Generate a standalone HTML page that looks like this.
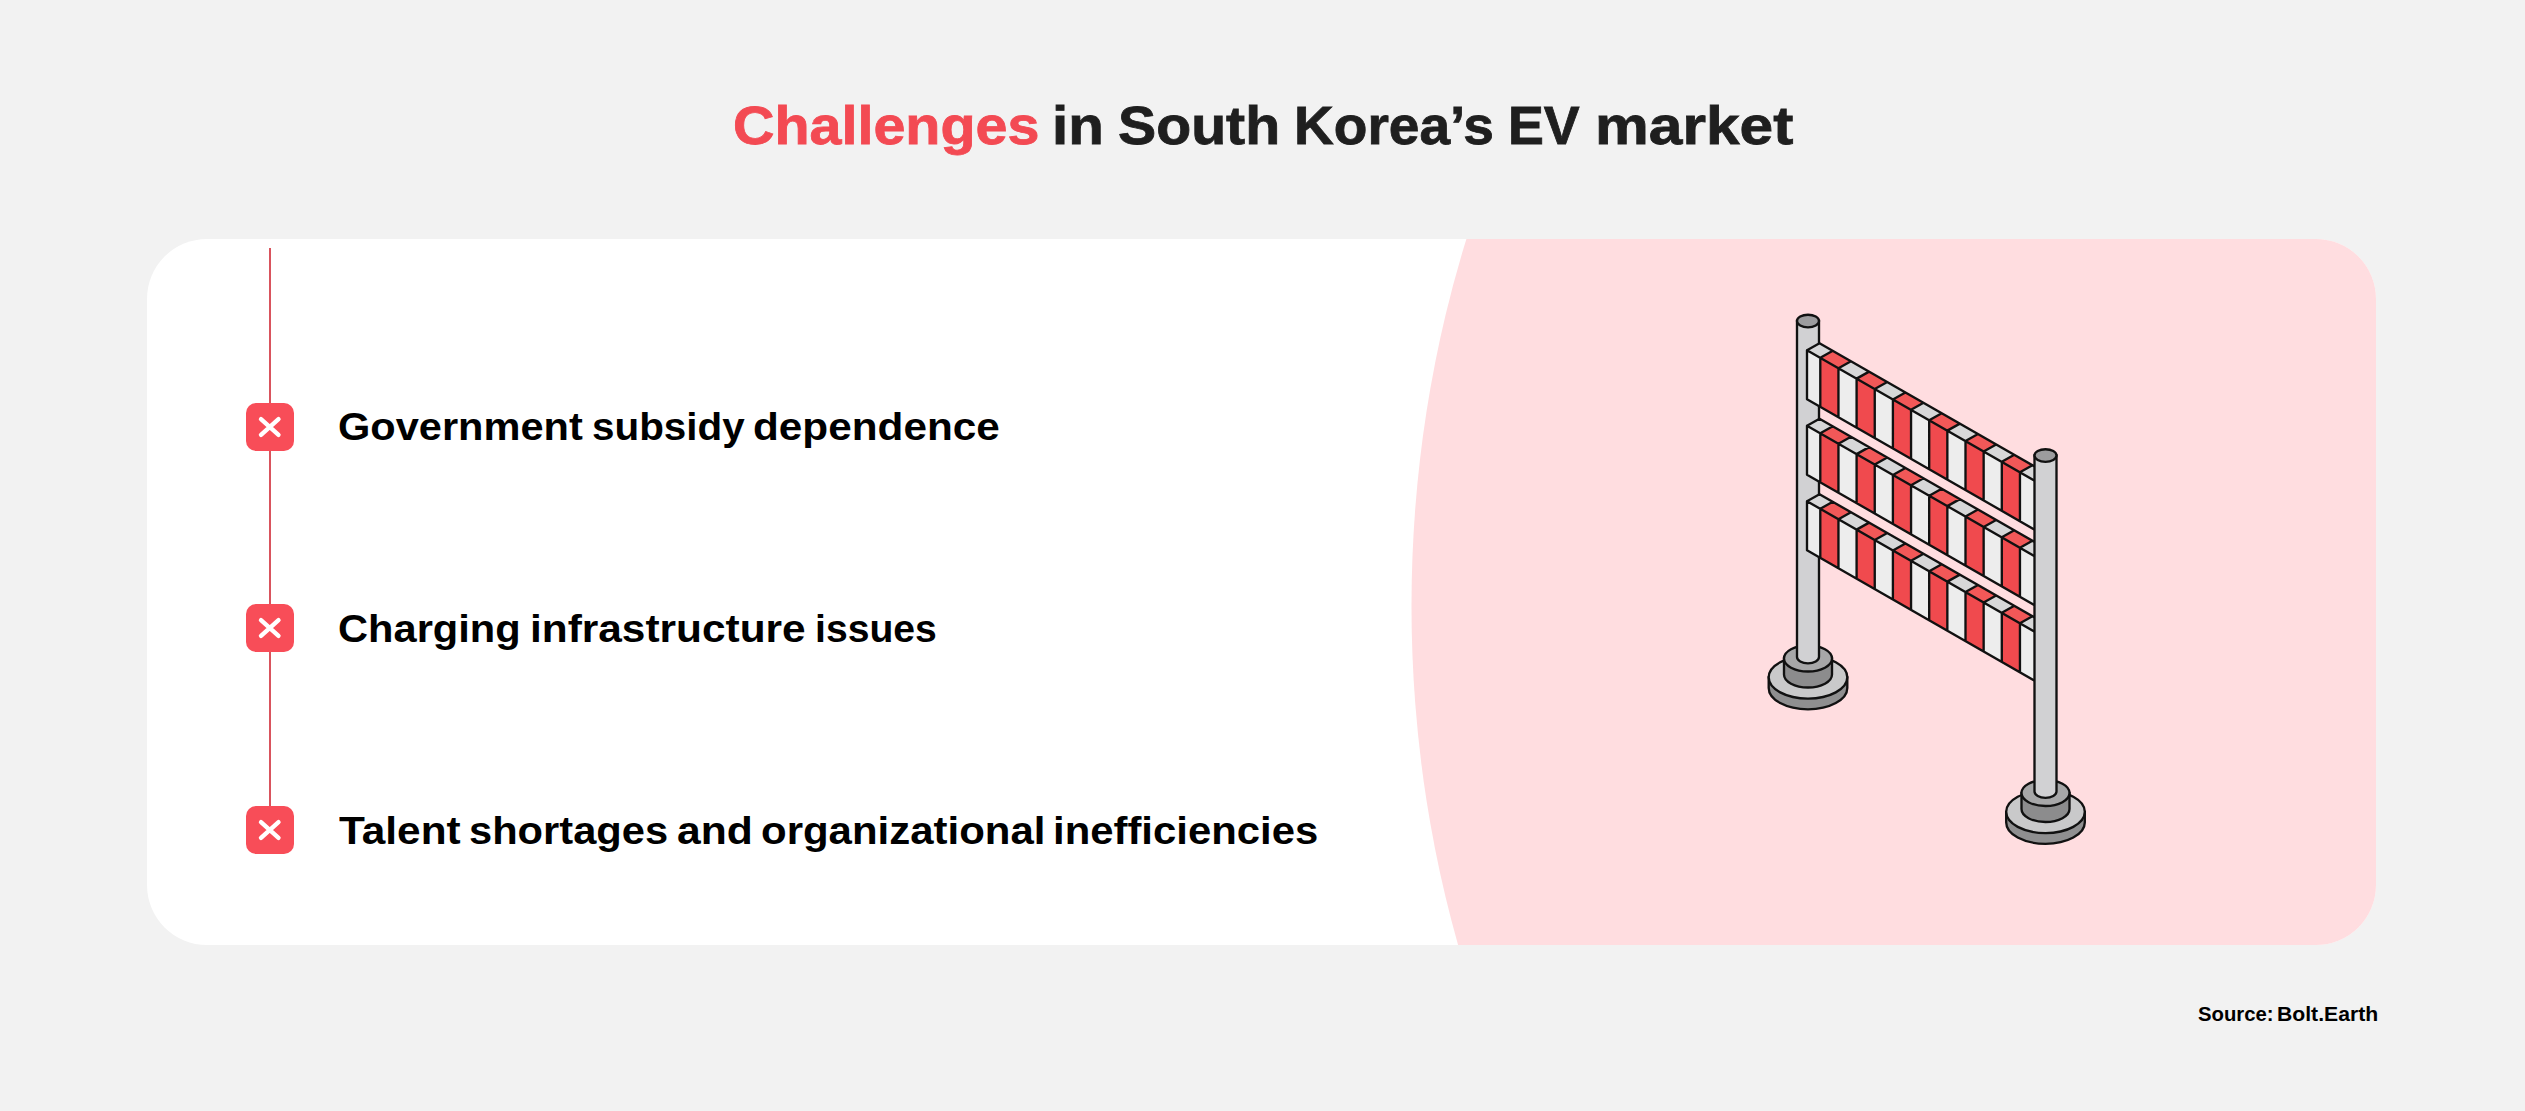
<!DOCTYPE html>
<html><head><meta charset="utf-8"><style>
html,body{margin:0;padding:0}
body{width:2525px;height:1111px;background:#f2f2f2;position:relative;overflow:hidden;font-family:"Liberation Sans",sans-serif;font-weight:bold}
.t{position:absolute;white-space:nowrap;line-height:1}
.w{position:absolute;white-space:nowrap;line-height:1;transform-origin:0 0}
#card{position:absolute;left:147px;top:239px;width:2229px;height:706px;background:#fff;border-radius:60px;overflow:hidden}
.box{position:absolute;left:246px;width:48px;height:48px;border-radius:10px;background:#f84d58}
</style></head><body>
<div id="title">
<span class="w" style="left:732.87px;top:98.7px;font-size:53px;color:#f34a53;transform:scaleX(1.0837);-webkit-text-stroke:0.8px currentColor">Challenges</span>
<span class="w" style="left:1051.61px;top:98.7px;font-size:53px;color:#1f1f1f;transform:scaleX(1.0996);-webkit-text-stroke:0.8px currentColor">in</span>
<span class="w" style="left:1118.34px;top:98.7px;font-size:53px;color:#1f1f1f;transform:scaleX(1.0801);-webkit-text-stroke:0.8px currentColor">South</span>
<span class="w" style="left:1294.44px;top:98.7px;font-size:53px;color:#1f1f1f;transform:scaleX(1.0387);-webkit-text-stroke:0.8px currentColor">Korea’s</span>
<span class="w" style="left:1508.41px;top:98.7px;font-size:53px;color:#1f1f1f;transform:scaleX(1.0144);-webkit-text-stroke:0.8px currentColor">EV</span>
<span class="w" style="left:1594.74px;top:98.7px;font-size:53px;color:#1f1f1f;transform:scaleX(1.1408);-webkit-text-stroke:0.8px currentColor">market</span>
</div>
<div id="card">
<svg width="2229" height="706" style="position:absolute;left:0;top:0"><ellipse cx="2053" cy="367" rx="788.5" ry="1001" fill="#ffdde0"/></svg>
</div>
<div style="position:absolute;left:269px;top:248px;width:2px;height:558px;background:#d9545d"></div>
<div class="box" style="top:403px"><svg width="48" height="48"><path d="M15,16.2 L32.5,31.8 M32.5,16.2 L15,31.8" stroke="#fff" stroke-width="4.4" stroke-linecap="round"/></svg></div>
<div class="box" style="top:604px"><svg width="48" height="48"><path d="M15,16.2 L32.5,31.8 M32.5,16.2 L15,31.8" stroke="#fff" stroke-width="4.4" stroke-linecap="round"/></svg></div>
<div class="box" style="top:806px"><svg width="48" height="48"><path d="M15,16.2 L32.5,31.8 M32.5,16.2 L15,31.8" stroke="#fff" stroke-width="4.4" stroke-linecap="round"/></svg></div>
<div class="item">
<span class="w" style="left:337.67px;top:408px;font-size:38.5px;color:#000;transform:scaleX(1.0793);">Government</span>
<span class="w" style="left:592.03px;top:408px;font-size:38.5px;color:#000;transform:scaleX(1.0495);">subsidy</span>
<span class="w" style="left:752.84px;top:408px;font-size:38.5px;color:#000;transform:scaleX(1.0989);">dependence</span>
</div>
<div class="item">
<span class="w" style="left:337.67px;top:610px;font-size:38.5px;color:#000;transform:scaleX(1.0815);">Charging</span>
<span class="w" style="left:530.00px;top:610px;font-size:38.5px;color:#000;transform:scaleX(1.1012);">infrastructure</span>
<span class="w" style="left:814.64px;top:610px;font-size:38.5px;color:#000;transform:scaleX(1.0169);">issues</span>
</div>
<div class="item">
<span class="w" style="left:339.00px;top:812px;font-size:38.5px;color:#000;transform:scaleX(1.1007);">Talent</span>
<span class="w" style="left:469.37px;top:812px;font-size:38.5px;color:#000;transform:scaleX(1.0822);">shortages</span>
<span class="w" style="left:677.26px;top:812px;font-size:38.5px;color:#000;transform:scaleX(1.1072);">and</span>
<span class="w" style="left:760.85px;top:812px;font-size:38.5px;color:#000;transform:scaleX(1.0900);">organizational</span>
<span class="w" style="left:1053.44px;top:812px;font-size:38.5px;color:#000;transform:scaleX(1.0872);">inefficiencies</span>
</div>
<div id="src">
<span class="w" style="left:2197.68px;top:1004.5px;font-size:19.5px;color:#000;transform:scaleX(1.0415);">Source:</span>
<span class="w" style="left:2276.84px;top:1004.5px;font-size:19.5px;color:#000;transform:scaleX(1.0858);">Bolt.Earth</span>
</div>
<svg width="2525" height="1111" style="position:absolute;left:0;top:0">
<path d="M1768.70,677.30 L1768.70,688.00 A39.30,21.30 0 0 0 1847.30,688.00 L1847.30,677.30 Z" fill="#8f8f90" stroke="#111" stroke-width="2.35"/><ellipse cx="1808.00" cy="677.30" rx="39.30" ry="21.30" fill="#c9c9ca" stroke="#111" stroke-width="2.35"/><path d="M1784.00,658.50 L1784.00,674.50 A24.00,13.00 0 0 0 1832.00,674.50 L1832.00,658.50 Z" fill="#8c8c8d" stroke="#111" stroke-width="2.35"/><ellipse cx="1808.00" cy="658.50" rx="24.00" ry="13.00" fill="#a7a7a8" stroke="#111" stroke-width="2.35"/>
<path d="M1797.00,321.00 L1797.00,657.00 A11.00,6.30 0 0 0 1819.00,657.00 L1819.00,321.00 Z" fill="#d1d1d3" stroke="#111" stroke-width="2.35"/>
<ellipse cx="1808.00" cy="321.00" rx="11.00" ry="6.30" fill="#9c9c9e" stroke="#111" stroke-width="2.35"/>
<polygon points="1807.00,350.20 1819.50,343.20 2052.50,476.71 2040.00,483.71" fill="#d7d7d8"/>
<polygon points="1807.00,350.20 2040.00,483.71 2040.00,532.71 1807.00,399.20" fill="#ededed"/>
<polygon points="1820.30,357.82 1838.45,368.22 1838.45,417.22 1820.30,406.82" fill="#f04a4e"/>
<polygon points="1820.30,357.82 1832.80,350.82 1850.95,361.22 1838.45,368.22" fill="#f25858"/>
<polygon points="1856.60,378.62 1874.75,389.02 1874.75,438.02 1856.60,427.62" fill="#f04a4e"/>
<polygon points="1856.60,378.62 1869.10,371.62 1887.25,382.02 1874.75,389.02" fill="#f25858"/>
<polygon points="1892.90,399.42 1911.05,409.82 1911.05,458.82 1892.90,448.42" fill="#f04a4e"/>
<polygon points="1892.90,399.42 1905.40,392.42 1923.55,402.82 1911.05,409.82" fill="#f25858"/>
<polygon points="1929.20,420.22 1947.35,430.62 1947.35,479.62 1929.20,469.22" fill="#f04a4e"/>
<polygon points="1929.20,420.22 1941.70,413.22 1959.85,423.62 1947.35,430.62" fill="#f25858"/>
<polygon points="1965.50,441.02 1983.65,451.42 1983.65,500.42 1965.50,490.02" fill="#f04a4e"/>
<polygon points="1965.50,441.02 1978.00,434.02 1996.15,444.42 1983.65,451.42" fill="#f25858"/>
<polygon points="2001.80,461.82 2019.95,472.22 2019.95,521.22 2001.80,510.82" fill="#f04a4e"/>
<polygon points="2001.80,461.82 2014.30,454.82 2032.45,465.22 2019.95,472.22" fill="#f25858"/>
<path d="M1807.00,350.20 L2040.00,483.71 L2040.00,532.71 L1807.00,399.20 Z M1807.00,350.20 L1819.50,343.20 L2052.50,476.71 L2040.00,483.71 M1832.80,350.82 L1820.30,357.82 L1820.30,406.82 M1850.95,361.22 L1838.45,368.22 L1838.45,417.22 M1869.10,371.62 L1856.60,378.62 L1856.60,427.62 M1887.25,382.02 L1874.75,389.02 L1874.75,438.02 M1905.40,392.42 L1892.90,399.42 L1892.90,448.42 M1923.55,402.82 L1911.05,409.82 L1911.05,458.82 M1941.70,413.22 L1929.20,420.22 L1929.20,469.22 M1959.85,423.62 L1947.35,430.62 L1947.35,479.62 M1978.00,434.02 L1965.50,441.02 L1965.50,490.02 M1996.15,444.42 L1983.65,451.42 L1983.65,500.42 M2014.30,454.82 L2001.80,461.82 L2001.80,510.82 M2032.45,465.22 L2019.95,472.22 L2019.95,521.22 M2050.60,475.62 L2038.10,482.62 L2038.10,531.62" fill="none" stroke="#111" stroke-width="2.35" stroke-linejoin="round"/>
<polygon points="1807.00,425.70 1819.50,418.70 2052.50,552.21 2040.00,559.21" fill="#d7d7d8"/>
<polygon points="1807.00,425.70 2040.00,559.21 2040.00,608.21 1807.00,474.70" fill="#ededed"/>
<polygon points="1820.30,433.32 1838.45,443.72 1838.45,492.72 1820.30,482.32" fill="#f04a4e"/>
<polygon points="1820.30,433.32 1832.80,426.32 1850.95,436.72 1838.45,443.72" fill="#f25858"/>
<polygon points="1856.60,454.12 1874.75,464.52 1874.75,513.52 1856.60,503.12" fill="#f04a4e"/>
<polygon points="1856.60,454.12 1869.10,447.12 1887.25,457.52 1874.75,464.52" fill="#f25858"/>
<polygon points="1892.90,474.92 1911.05,485.32 1911.05,534.32 1892.90,523.92" fill="#f04a4e"/>
<polygon points="1892.90,474.92 1905.40,467.92 1923.55,478.32 1911.05,485.32" fill="#f25858"/>
<polygon points="1929.20,495.72 1947.35,506.12 1947.35,555.12 1929.20,544.72" fill="#f04a4e"/>
<polygon points="1929.20,495.72 1941.70,488.72 1959.85,499.12 1947.35,506.12" fill="#f25858"/>
<polygon points="1965.50,516.52 1983.65,526.92 1983.65,575.92 1965.50,565.52" fill="#f04a4e"/>
<polygon points="1965.50,516.52 1978.00,509.52 1996.15,519.92 1983.65,526.92" fill="#f25858"/>
<polygon points="2001.80,537.32 2019.95,547.72 2019.95,596.72 2001.80,586.32" fill="#f04a4e"/>
<polygon points="2001.80,537.32 2014.30,530.32 2032.45,540.72 2019.95,547.72" fill="#f25858"/>
<path d="M1807.00,425.70 L2040.00,559.21 L2040.00,608.21 L1807.00,474.70 Z M1807.00,425.70 L1819.50,418.70 L2052.50,552.21 L2040.00,559.21 M1832.80,426.32 L1820.30,433.32 L1820.30,482.32 M1850.95,436.72 L1838.45,443.72 L1838.45,492.72 M1869.10,447.12 L1856.60,454.12 L1856.60,503.12 M1887.25,457.52 L1874.75,464.52 L1874.75,513.52 M1905.40,467.92 L1892.90,474.92 L1892.90,523.92 M1923.55,478.32 L1911.05,485.32 L1911.05,534.32 M1941.70,488.72 L1929.20,495.72 L1929.20,544.72 M1959.85,499.12 L1947.35,506.12 L1947.35,555.12 M1978.00,509.52 L1965.50,516.52 L1965.50,565.52 M1996.15,519.92 L1983.65,526.92 L1983.65,575.92 M2014.30,530.32 L2001.80,537.32 L2001.80,586.32 M2032.45,540.72 L2019.95,547.72 L2019.95,596.72 M2050.60,551.12 L2038.10,558.12 L2038.10,607.12" fill="none" stroke="#111" stroke-width="2.35" stroke-linejoin="round"/>
<polygon points="1807.00,501.20 1819.50,494.20 2052.50,627.71 2040.00,634.71" fill="#d7d7d8"/>
<polygon points="1807.00,501.20 2040.00,634.71 2040.00,683.71 1807.00,550.20" fill="#ededed"/>
<polygon points="1820.30,508.82 1838.45,519.22 1838.45,568.22 1820.30,557.82" fill="#f04a4e"/>
<polygon points="1820.30,508.82 1832.80,501.82 1850.95,512.22 1838.45,519.22" fill="#f25858"/>
<polygon points="1856.60,529.62 1874.75,540.02 1874.75,589.02 1856.60,578.62" fill="#f04a4e"/>
<polygon points="1856.60,529.62 1869.10,522.62 1887.25,533.02 1874.75,540.02" fill="#f25858"/>
<polygon points="1892.90,550.42 1911.05,560.82 1911.05,609.82 1892.90,599.42" fill="#f04a4e"/>
<polygon points="1892.90,550.42 1905.40,543.42 1923.55,553.82 1911.05,560.82" fill="#f25858"/>
<polygon points="1929.20,571.22 1947.35,581.62 1947.35,630.62 1929.20,620.22" fill="#f04a4e"/>
<polygon points="1929.20,571.22 1941.70,564.22 1959.85,574.62 1947.35,581.62" fill="#f25858"/>
<polygon points="1965.50,592.02 1983.65,602.42 1983.65,651.42 1965.50,641.02" fill="#f04a4e"/>
<polygon points="1965.50,592.02 1978.00,585.02 1996.15,595.42 1983.65,602.42" fill="#f25858"/>
<polygon points="2001.80,612.82 2019.95,623.22 2019.95,672.22 2001.80,661.82" fill="#f04a4e"/>
<polygon points="2001.80,612.82 2014.30,605.82 2032.45,616.22 2019.95,623.22" fill="#f25858"/>
<path d="M1807.00,501.20 L2040.00,634.71 L2040.00,683.71 L1807.00,550.20 Z M1807.00,501.20 L1819.50,494.20 L2052.50,627.71 L2040.00,634.71 M1832.80,501.82 L1820.30,508.82 L1820.30,557.82 M1850.95,512.22 L1838.45,519.22 L1838.45,568.22 M1869.10,522.62 L1856.60,529.62 L1856.60,578.62 M1887.25,533.02 L1874.75,540.02 L1874.75,589.02 M1905.40,543.42 L1892.90,550.42 L1892.90,599.42 M1923.55,553.82 L1911.05,560.82 L1911.05,609.82 M1941.70,564.22 L1929.20,571.22 L1929.20,620.22 M1959.85,574.62 L1947.35,581.62 L1947.35,630.62 M1978.00,585.02 L1965.50,592.02 L1965.50,641.02 M1996.15,595.42 L1983.65,602.42 L1983.65,651.42 M2014.30,605.82 L2001.80,612.82 L2001.80,661.82 M2032.45,616.22 L2019.95,623.22 L2019.95,672.22 M2050.60,626.62 L2038.10,633.62 L2038.10,682.62" fill="none" stroke="#111" stroke-width="2.35" stroke-linejoin="round"/>
<path d="M2006.20,811.80 L2006.20,822.50 A39.30,21.30 0 0 0 2084.80,822.50 L2084.80,811.80 Z" fill="#8f8f90" stroke="#111" stroke-width="2.35"/><ellipse cx="2045.50" cy="811.80" rx="39.30" ry="21.30" fill="#c9c9ca" stroke="#111" stroke-width="2.35"/><path d="M2021.50,793.00 L2021.50,809.00 A24.00,13.00 0 0 0 2069.50,809.00 L2069.50,793.00 Z" fill="#8c8c8d" stroke="#111" stroke-width="2.35"/><ellipse cx="2045.50" cy="793.00" rx="24.00" ry="13.00" fill="#a7a7a8" stroke="#111" stroke-width="2.35"/>
<path d="M2034.50,455.50 L2034.50,791.50 A11.00,6.30 0 0 0 2056.50,791.50 L2056.50,455.50 Z" fill="#d1d1d3" stroke="#111" stroke-width="2.35"/>
<ellipse cx="2045.50" cy="455.50" rx="11.00" ry="6.30" fill="#9c9c9e" stroke="#111" stroke-width="2.35"/>
</svg>
</body></html>
